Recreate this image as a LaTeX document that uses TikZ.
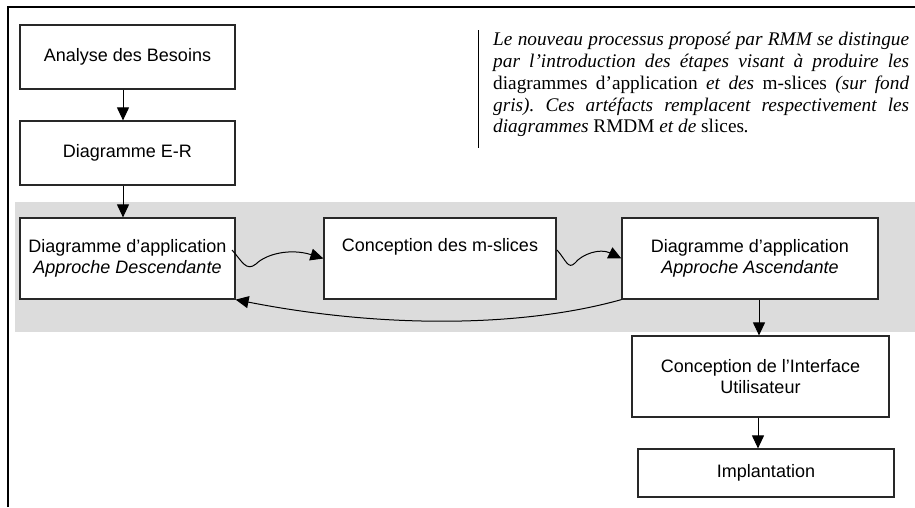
\documentclass[tikz,border=0pt]{standalone}
\usepackage{fontspec}
\setmainfont{Liberation Serif}
\setsansfont{Liberation Sans}
\usetikzlibrary{arrows.meta}
\definecolor{bandgray}{RGB}{220,220,220}
\definecolor{boxline}{RGB}{40,40,40}
\tikzset{
  stepbox/.style={draw=boxline, line width=1.2pt, fill=white, inner sep=0pt,
    align=center, font=\sffamily\fontsize{18}{21}\selectfont},
  flow/.style={-{Triangle[length=13pt,width=12pt]}, line width=1pt},
}
\begin{document}
\begin{tikzpicture}[x=1pt,y=-1pt]
\useasboundingbox (0,0) rectangle (915,507);
% frame
\draw[line width=2pt] (8,507) -- (8,7) -- (915,7);
% gray band
\fill[bandgray] (15,202) rectangle (915,332);
% boxes
\node[stepbox, minimum width=215pt, minimum height=64pt] (ana) at (127.5,57) {\raisebox{3pt}{Analyse des Besoins}};
\node[stepbox, minimum width=215pt, minimum height=64pt] (er) at (127.5,153) {Diagramme E-R};
\node[stepbox, minimum width=215pt, minimum height=81pt] (desc) at (127.5,258.5) {Diagramme d'application\\\textit{Approche Descendante}};
\node[stepbox, minimum width=232pt, minimum height=81pt] (msl) at (440,258.5) {Conception des m-slices\\\strut};
\node[stepbox, minimum width=256pt, minimum height=81pt] (asc) at (750,258.5) {Diagramme d'application\\\textit{Approche Ascendante}};
\node[stepbox, minimum width=257pt, minimum height=81pt] (iface) at (760.5,376.5) {Conception de l'Interface\\Utilisateur};
\node[stepbox, minimum width=256pt, minimum height=48pt] (impl) at (766,473) {Implantation};
% vertical connectors
\draw[flow] ([xshift=-4.5pt]ana.south) -- ([xshift=-4.5pt]er.north);
\draw[flow] ([xshift=-4.5pt]er.south) -- ([xshift=-4.5pt]desc.north);
\draw[flow] ([xshift=9pt]asc.south) -- ([xshift=9pt]asc.south |- iface.north);
\draw[flow] ([xshift=-2.5pt]iface.south) -- ([xshift=-2.5pt]iface.south |- impl.north);
% wavy connectors
\draw[flow] (232,250) .. controls (242,261) and (246,272) .. (256,264) .. controls (266,254) and (290,248) .. (msl.west);
\draw[flow] (557,250) .. controls (566,260) and (568,270) .. (575,263) .. controls (582,254) and (600,248) .. (asc.west);
% return connector
\draw[flow] (asc.south west) .. controls (520,328) and (380,328) .. (desc.south east);
% note
\draw[line width=0.8pt] (478,30) -- (478,148);
\node[anchor=north west, inner sep=0pt, text width=416pt, align=justify,
  font=\rmfamily\fontsize{19.3}{21.8}\selectfont] (note) at (493,32)
  {\hyphenpenalty=10000 \exhyphenpenalty=10000 \frenchspacing
   \baselineskip=21.8pt
   \itshape Le nouveau processus proposé par RMM se distingue\linebreak
   par l'introduction des étapes visant à produire les\linebreak
   \upshape diagrammes d'application \itshape et des \upshape m-slices \itshape (sur fond\linebreak
   gris). Ces artéfacts remplacent respectivement les\linebreak
   diagrammes \upshape RMDM \itshape et de \upshape slices\itshape.\par};
\end{tikzpicture}
\end{document}
